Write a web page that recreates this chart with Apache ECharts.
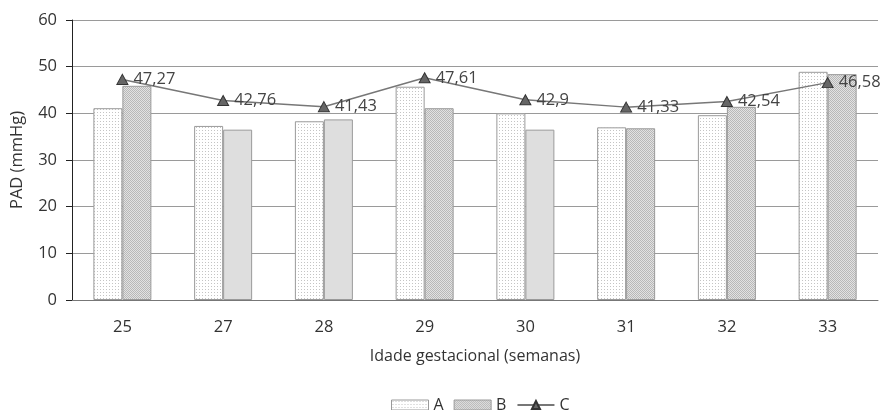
<!DOCTYPE html>
<html>
<head>
<meta charset="utf-8">
<script src="https://cdn.jsdelivr.net/npm/echarts@6/dist/echarts.min.js"></script>
<style>
  html, body { margin: 0; padding: 0; background: #fff; }
  #chart { width: 887px; height: 410px; }
</style>
</head>
<body>
<div id="chart"></div>
<script>
// Gestational age (weeks) and PAD values (mmHg)
const categories = ['25', '27', '28', '29', '30', '31', '32', '33'];
const seriesA = [41.1, 37.3, 38.3, 45.7, 40.0, 37.0, 39.6, 48.9];
const seriesB = [45.9, 36.5, 38.7, 41.1, 36.5, 36.8, 41.4, 48.4];
const seriesC = [47.27, 42.76, 41.43, 47.61, 42.9, 41.33, 42.54, 46.58];
// B bars drawn with a plain fill instead of the hatch
const plainB = [false, true, true, false, true, false, false, false];

function makeDots(step) {
  const c = document.createElement('canvas');
  c.width = step; c.height = step;
  const g = c.getContext('2d');
  g.fillStyle = '#ffffff'; g.fillRect(0, 0, step, step);
  g.fillStyle = '#c4c4c4'; g.fillRect(1, 1, 1, 1);
  return { image: c, repeat: 'repeat' };
}
function makeHatch() {
  const c = document.createElement('canvas');
  c.width = 2; c.height = 2;
  const g = c.getContext('2d');
  g.fillStyle = '#e2e2e2'; g.fillRect(0, 0, 2, 2);
  g.fillStyle = '#b8b8b8'; g.fillRect(0, 0, 1, 1); g.fillRect(1, 1, 1, 1);
  return { image: c, repeat: 'repeat' };
}
const dotFill = makeDots(3);
const hatchFill = makeHatch();
const fontFam = '"Open Sans", "Noto Sans", sans-serif';
const fmt = v => String(v).replace('.', ',');

const chart = echarts.init(document.getElementById('chart'), null, { renderer: 'canvas' });
chart.setOption({
  animation: false,
  backgroundColor: '#fff',
  textStyle: { fontFamily: fontFam },
  grid: { left: 72, right: 9, top: 20, bottom: 110 },
  legend: {
    top: 392,
    left: 386,
    itemWidth: 37,
    itemHeight: 10,
    itemGap: 10,
    textStyle: { fontSize: 16, color: '#333', fontFamily: fontFam },
    data: [
      { name: 'A', icon: 'rect', itemStyle: { color: dotFill, borderColor: '#9a9a9a', borderWidth: 1 } },
      { name: 'B', icon: 'rect', itemStyle: { color: hatchFill, borderColor: '#9a9a9a', borderWidth: 1 } },
      { name: 'C' }
    ]
  },
  xAxis: {
    type: 'category',
    data: categories,
    name: 'Idade gestacional (semanas)',
    nameLocation: 'middle',
    nameGap: 48,
    nameTextStyle: { fontSize: 16, color: '#333' },
    axisLine: { lineStyle: { color: '#777', width: 1 } },
    axisTick: { show: false },
    axisLabel: { fontSize: 16.5, color: '#333', margin: 19 }
  },
  yAxis: {
    type: 'value',
    min: 0, max: 60, interval: 10,
    name: 'PAD (mmHg)',
    nameLocation: 'middle',
    nameGap: 46,
    nameTextStyle: { fontSize: 16.5, color: '#333' },
    axisLine: { show: true, lineStyle: { color: '#222', width: 1 } },
    axisTick: { show: true, length: 6, lineStyle: { color: '#222' } },
    axisLabel: { fontSize: 16.5, color: '#333', margin: 15 },
    splitLine: { lineStyle: { color: '#9a9a9a', width: 1 } }
  },
  series: [
    {
      name: 'A', type: 'bar',
      barWidth: 29, barGap: '0%',
      itemStyle: { color: dotFill, borderColor: '#9a9a9a', borderWidth: 1 },
      data: seriesA
    },
    {
      name: 'B', type: 'bar',
      barWidth: 29,
      itemStyle: { color: hatchFill, borderColor: '#9a9a9a', borderWidth: 1 },
      data: seriesB.map((v, i) => plainB[i]
        ? { value: v, itemStyle: { color: '#dedede' } }
        : v)
    },
    {
      name: 'C', type: 'line',
      symbol: 'triangle', symbolSize: [11, 10],
      itemStyle: { color: '#666', borderColor: '#333', borderWidth: 1 },
      lineStyle: { color: '#777', width: 1.5 },
      label: {
        show: true, position: 'right', distance: 5,
        fontSize: 16.5, color: '#444',
        formatter: p => fmt(p.value)
      },
      z: 5,
      data: seriesC
    }
  ]
});
</script>
</body>
</html>
